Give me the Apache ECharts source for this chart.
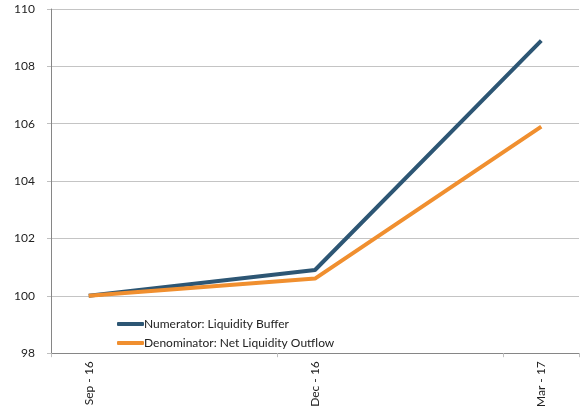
<!DOCTYPE html>
<html><head><meta charset="utf-8">
<script src="https://cdn.jsdelivr.net/npm/echarts@6/dist/echarts.min.js"></script>
<style>html,body{margin:0;padding:0;background:#fff}#c{width:582px;height:410px}</style>
</head><body><div id="c"></div>
<script>
const months = ['Sep - 16','Oct - 16','Nov - 16','Dec - 16','Jan - 17','Feb - 17','Mar - 17'];
const numerator = [100, null, null, 100.9, null, null, 108.9];
const denominator = [100, null, null, 100.6, null, null, 105.9];
const seriesNames = ['Numerator: Liquidity Buffer', 'Denominator: Net Liquidity Outflow'];
const yTicks = {min: 98, max: 110, interval: 2};

const chart = echarts.init(document.getElementById('c'), null, {renderer: 'canvas'});
const font = 'Lato, "Open Sans", sans-serif';
chart.setOption({
  animation: false,
  grid: {left: 51, right: 3, top: 9, bottom: 56, containLabel: false},
  legend: {
    orient: 'vertical', left: 117, top: 318, padding: 0, itemWidth: 27, itemHeight: 4, itemGap: 7,
    icon: 'roundRect',
    textStyle: {fontFamily: font, fontSize: 12, color: '#222', padding: [0, 0, 0, -5]},
    data: seriesNames
  },
  xAxis: {
    type: 'category', data: months, boundaryGap: true,
    axisLine: {lineStyle: {color: '#868686', width: 1}},
    axisTick: {show: true, interval: 2, length: 4, lineStyle: {color: '#bfbfbf'}},
    axisLabel: {interval: 2, rotate: 90, margin: 8, fontFamily: font, fontSize: 12, color: '#222'}
  },
  yAxis: {
    type: 'value', min: yTicks.min, max: yTicks.max, interval: yTicks.interval,
    axisLine: {show: true, lineStyle: {color: '#868686'}},
    axisTick: {show: true, length: 4, lineStyle: {color: '#bfbfbf'}},
    axisLabel: {margin: 16, fontFamily: font, fontSize: 12, color: '#222'},
    splitLine: {lineStyle: {color: '#c4c4c4'}}
  },
  series: [
    {name: seriesNames[0], type: 'line', data: numerator, connectNulls: true, showSymbol: false,
     lineStyle: {color: '#2d5674', width: 4}, itemStyle: {color: '#2d5674'}},
    {name: seriesNames[1], type: 'line', data: denominator, connectNulls: true, showSymbol: false,
     lineStyle: {color: '#f08f2f', width: 4}, itemStyle: {color: '#f08f2f'}}
  ]
});
</script></body></html>
